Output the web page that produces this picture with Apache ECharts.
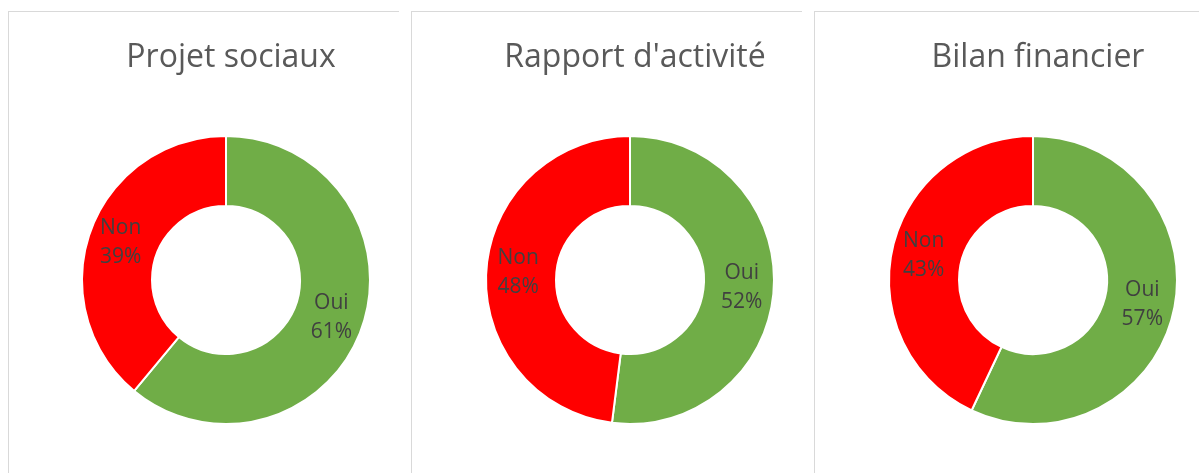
<!DOCTYPE html>
<html lang="fr" style="height: 100%">
<head>
    <meta charset="utf-8">
    <script type="text/javascript" src="https://fastly.jsdelivr.net/npm/echarts@6/dist/echarts.min.js"></script>
    <style>
        .panel {
            position: absolute;
            top: 11px;
            height: 480px;
            width: 400px;
            border-top: 1px solid #d9d9d9;
            border-left: 1px solid #d9d9d9;
        }
    </style>
</head>
<body style="height: 100%; margin: 0; background: #fff; overflow: hidden">
<div class="panel" style="left: 8px; width: 390px"></div>
<div class="panel" style="left: 411px; width: 390px"></div>
<div class="panel" style="left: 814px; width: 400px"></div>
<div id="container" style="position: absolute; left: 0; top: 0; width: 1199px; height: 473px"></div>
<script type="text/javascript">
    // données
    var titres = ['Projet sociaux', "Rapport d'activité", 'Bilan financier'];
    var categories = ['Oui', 'Non'];
    var oui = [61, 52, 57];
    var non = [39, 48, 43];
    var couleurs = ['#70ad47', '#ff0000'];

    var centresX = [226, 630, 1033];

    var dom = document.getElementById('container');
    var myChart = echarts.init(dom, null, {renderer: 'canvas'});

    var title = [];
    var series = [];
    for (var i = 0; i < titres.length; i++) {
        title.push({
            text: titres[i],
            left: centresX[i],
            top: 37,
            textAlign: 'center',
            textStyle: {
                fontFamily: 'Open Sans',
                fontSize: 32,
                fontWeight: 'normal',
                color: '#595959'
            }
        });
        series.push({
            name: titres[i],
            type: 'pie',
            center: [centresX[i], 280],
            radius: [74, 144],
            startAngle: 90,
            clockwise: true,
            silent: true,
            animation: false,
            itemStyle: {
                borderColor: '#fff',
                borderWidth: 2
            },
            label: {
                show: true,
                position: 'inside',
                formatter: '{b}\n{d}%',
                fontFamily: 'Open Sans',
                fontSize: 21,
                lineHeight: 29,
                padding: [4, 0, 0, 0],
                color: '#404040'
            },
            labelLine: {show: false},
            data: [
                {name: categories[0], value: oui[i], itemStyle: {color: couleurs[0]}},
                {name: categories[1], value: non[i], itemStyle: {color: couleurs[1]}}
            ]
        });
    }

    var option = {
        backgroundColor: 'transparent',
        title: title,
        series: series
    };

    myChart.setOption(option);
    window.addEventListener('resize', myChart.resize);
</script>
</body>
</html>
